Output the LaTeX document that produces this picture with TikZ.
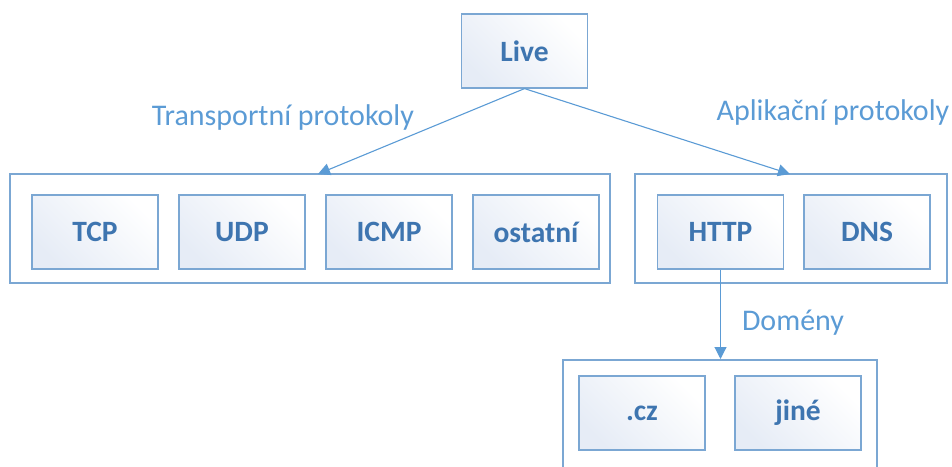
\documentclass[tikz,border=0pt]{standalone}
\usepackage{fontspec}
\setmainfont{Carlito}
\usepackage{tikz}
\usetikzlibrary{arrows.meta}
\definecolor{rampa}{HTML}{7BA7D3}
\definecolor{popis}{HTML}{5B9BD5}
\definecolor{napis}{HTML}{3E75B0}
\definecolor{vypln}{HTML}{E6ECF6}
\tikzset{
  skupina/.style={draw=rampa, line width=1.2pt, fill=white, minimum width=#1, minimum height=109pt, inner sep=0pt},
  polozka/.style={draw=rampa, line width=1.2pt, left color=white, right color=vypln, shading angle=-45,
    minimum width=126pt, minimum height=74pt, inner sep=0pt, text=napis, font=\fontsize{29.5}{34}\selectfont\bfseries},
  sipka/.style={draw=popis, line width=1.1pt, -{Triangle[width=12pt,length=12pt]}},
  stitek/.style={text=popis, font=\fontsize{30}{35}\selectfont}
}
\begin{document}
\begin{tikzpicture}[x=1pt,y=-1pt]
\useasboundingbox (0,0) rectangle (952,466);
% korenovy uzel
\node[polozka] (live) at (524.5,51) {Live};
% skupiny
\node[skupina=600pt] (transport) at (310,228.5) {};
\node[skupina=312pt] (aplikace) at (791,228.5) {};
\node[skupina=314pt, minimum height=130pt] (domeny) at (720,425) {};
% protokoly
\node[polozka] (tcp) at (95,232) {TCP};
\node[polozka] (udp) at (242,232) {UDP};
\node[polozka] (icmp) at (389,232) {ICMP};
\node[polozka] (ostatni) at (536,232) {ostatní};
\node[polozka] (http) at (720.5,232) {HTTP};
\node[polozka] (dns) at (867,232) {DNS};
% domeny
\node[polozka] (cz) at (642,413) {.cz};
\node[polozka] (jine) at (798,413) {jiné};
% sipky
\coordinate (cilT) at (318,174);
\coordinate (cilA) at (790,174);
\coordinate (cilD) at (720.5,359);
\draw[sipka] (live.south) -- (cilT);
\draw[sipka] (live.south) -- (cilA);
\draw[sipka] (http.south) -- (cilD);
% popisky
\node[stitek] (lt) at (283,117) {Transportní protokoly};
\node[stitek] (la) at (833,112) {Aplikační protokoly};
\node[stitek] (ld) at (793,323) {Domény};
\end{tikzpicture}
\end{document}
